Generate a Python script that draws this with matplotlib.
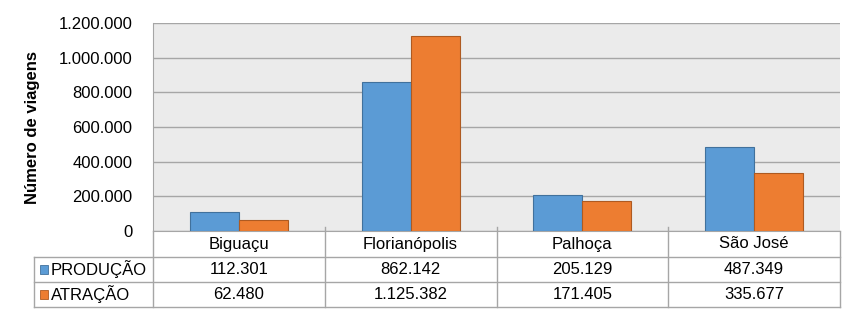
import matplotlib
matplotlib.use('Agg')
import matplotlib.pyplot as plt
import matplotlib.transforms as mtransforms
import numpy as np
from matplotlib.patches import Rectangle
from matplotlib.ticker import FuncFormatter

plt.rcParams['font.family'] = ['Liberation Sans', 'DejaVu Sans']

cidades = ['Biguaçu', 'Florianópolis', 'Palhoça', 'São José']
producao = [112301, 862142, 205129, 487349]
atracao = [62480, 1125382, 171405, 335677]
series = ['PRODUÇÃO', 'ATRAÇÃO']

azul = '#5B9BD5'
laranja = '#ED7D31'
cinza = '#A6A6A6'
fs = 12


def fmt(v, pos=None):
    # separador de milhar com ponto
    return '{:,.0f}'.format(v).replace(',', '.')


fig = plt.figure(figsize=(8.5, 3.11), dpi=100)
ax = fig.add_axes([153/850, 80/311, 687/850, 208/311])
ax.set_facecolor('#EBEBEB')

x = np.arange(len(cidades))
w = 0.285
ax.bar(x - w/2, producao, w, color=azul, edgecolor='#41719C', linewidth=0.8, zorder=3)
ax.bar(x + w/2, atracao, w, color=laranja, edgecolor='#AE5A21', linewidth=0.8, zorder=3)

ax.set_xlim(-0.5, len(cidades) - 0.5)
ax.set_ylim(0, 1200000)
ax.set_yticks(np.arange(0, 1200001, 200000))
ax.yaxis.set_major_formatter(FuncFormatter(fmt))
ax.set_xticks([])
ax.tick_params(axis='y', length=0, pad=15, labelsize=fs)
ax.grid(axis='y', color=cinza, linewidth=1, zorder=0)
ax.set_axisbelow(True)
for s in ['top', 'right']:
    ax.spines[s].set_visible(False)
ax.spines['left'].set_color(cinza)
ax.spines['bottom'].set_color(cinza)
ax.set_ylabel('Número de viagens', fontsize=12, fontweight='bold')
ax.yaxis.set_label_coords(-0.1645, 0.5)

# tabela de dados abaixo do grafico (desenhada a mao)
tr = mtransforms.blended_transform_factory(ax.transData, ax.transAxes)
px = 1 / 208.0
x_esq = -119 / 687.0
linhas_y = [0, -26 * px, -51 * px, -76 * px]
kw = dict(color=cinza, linewidth=1, clip_on=False)

for yy in linhas_y[1:]:
    ax.plot([x_esq, 1], [yy, yy], transform=ax.transAxes, **kw)
ax.plot([x_esq, x_esq], [linhas_y[1], linhas_y[3]], transform=ax.transAxes, **kw)
for xb in np.arange(len(cidades) + 1) - 0.5:
    ax.plot([xb, xb], [4 * px if 0 < xb < len(cidades) - 1 else 0, linhas_y[3]], transform=tr, **kw)

for j, c in enumerate(cidades):
    ax.text(j, -13 * px, c, transform=tr, ha='center', va='center', fontsize=fs)
    ax.text(j, -38.5 * px, fmt(producao[j]), transform=tr, ha='center', va='center', fontsize=fs)
    ax.text(j, -63.5 * px, fmt(atracao[j]), transform=tr, ha='center', va='center', fontsize=fs)

cores = [azul, laranja]
bordas = ['#41719C', '#AE5A21']
for i, nome in enumerate(series):
    yc = -(38.5 + 25 * i) * px
    ax.add_patch(Rectangle((-113/687, yc - 4.5 * px), 8.5/687, 9 * px, transform=ax.transAxes,
                           facecolor=cores[i], edgecolor=bordas[i], linewidth=0.6, clip_on=False))
    ax.text(-102/687, yc, nome, transform=ax.transAxes, ha='left', va='center', fontsize=fs)

fig.savefig('out.png', dpi=100)
